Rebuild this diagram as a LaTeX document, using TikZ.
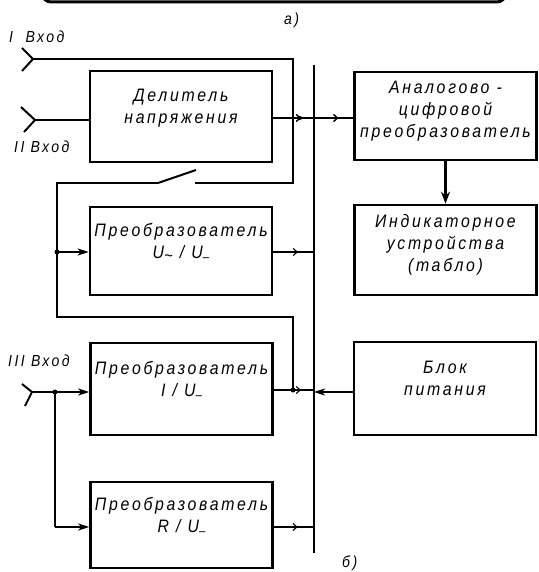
\documentclass[tikz,border=0pt]{standalone}
\usepackage{fontspec}
\setmainfont{Liberation Sans}
\newfontfamily\gost{Liberation Sans}[LetterSpace=15,FakeStretch=0.88]
\usetikzlibrary{arrows.meta,decorations.markings}
\newcommand{\acsub}{\raisebox{-3pt}{\fontsize{17}{17}\selectfont\textasciitilde}}
\newcommand{\dcsub}{\raisebox{-3pt}{\fontsize{13}{13}\selectfont–}}
\tikzset{
  blk/.style={draw, line width=2.6pt, minimum width=182pt, align=center, inner sep=0pt,
    font=\gost\itshape\fontsize{18}{22}\selectfont},
  wire/.style={line width=2pt},
  thick wire/.style={line width=2.6pt},
  inarr/.style={wire, -{Stealth[length=11pt,width=7pt,inset=3pt]}},
  markat/.style={postaction={decorate}, decoration={markings,
    mark=at position #1 with {\arrow[line width=1.1pt]{Straight Barb[length=4pt,width=7pt]}}}},
  jdot/.style={circle, fill, inner sep=0pt, minimum size=5pt},
  lbl/.style={font=\gost\itshape\fontsize{16}{18}\selectfont, inner sep=0pt, anchor=base west},
}
\begin{document}
\begin{tikzpicture}[x=1pt,y=-1pt]
\useasboundingbox (0,0) rectangle (538,572);
% bottom edge of figure a)
\draw[line width=3pt, rounded corners=8pt] (41,-15) -- (43,2) -- (505,2) -- (507,-15);
\node[lbl] (la) at (284,25) {а)};
\node[lbl] (lb) at (342,567) {б)};

% blocks
\node[blk, minimum height=91pt, text depth=20pt] (div) at (181,116.5) {Делитель\\напряжения};
\node[blk, minimum height=88pt, text depth=14pt] (adc) at (445.5,116) {Аналогово -\\цифровой\\преобразователь};
\node[blk, minimum height=90pt, text depth=14pt] (ind) at (445.5,250) {Индикаторное\\устройства\\(табло)};
\node[blk, minimum height=88pt, text depth=20pt] (uac) at (181,251) {Преобразователь\\U\acsub\ / U\dcsub};
\node[blk, minimum height=92pt, text depth=20pt] (iu) at (181.5,389) {Преобразователь\\I / U\dcsub};
\node[blk, minimum height=86pt, text depth=20pt] (ru) at (181.5,525) {Преобразователь\\R / U\dcsub};
\node[blk, minimum height=93pt, text depth=20pt] (pwr) at (445,388.5) {Блок\\питания};

% input labels
\node[lbl] (l1) at (9,43) {I\ \ Вход};
\node[lbl] (l2) at (14,153) {II Вход};
\node[lbl] (l3) at (8,366) {III\ Вход};

% bus
\coordinate (bt) at (314,65);
\coordinate (bb) at (314,553);
\draw[thick wire] (bt) -- (bb);

% input I with switch
\coordinate (i1) at (33,59);
\coordinate (i1a) at (22,48);
\coordinate (i1b) at (22,71);
\draw[wire] (i1a) -- (i1) -- (i1b);
\coordinate (c1) at (293,59);
\coordinate (c2) at (293,183);
\coordinate (sw2) at (195,183);
\coordinate (sw1) at (158,183);
\coordinate (swb) at (196,170);
\coordinate (c3) at (57,183);
\coordinate (c4) at (57,317);
\coordinate (c5) at (293,317);
\coordinate (j1) at (57,252);
\coordinate (j2) at (293,390);
\draw[wire] (i1) -- (c1) -- (c2) -- (sw2);
\draw[wire] (sw1) -- (swb);
\draw[wire] (sw1) -- (c3) -- (c4) -- (c5) -- (j2);
\node[jdot] at (j1) {};
\node[jdot] at (j2) {};
\draw[inarr] (j1) -- (uac.west |- j1);

% input II
\coordinate (i2) at (35,120);
\coordinate (i2a) at (21,107);
\coordinate (i2b) at (24,132);
\draw[wire] (i2a) -- (i2) -- (i2b);
\draw[wire] (i2) -- (i2 -| div.west);

% divider output to ADC
\coordinate (d1) at (272,118);
\coordinate (d2) at (355,118);
\draw[wire, markat=0.35, markat=0.8] (d1) -- (d2);
\node[jdot, minimum size=4pt] at (300,118) {};

% ADC -> indicator
\draw[thick wire, -{Stealth[length=12pt,width=9pt]}] (adc.south) -- (ind.north);

% converter outputs to bus
\coordinate (u1) at (272,252);
\draw[wire, markat=0.62] (u1) -- (u1 -| bt);
\coordinate (v1) at (273.5,390);
\draw[wire, markat=0.68] (v1) -- (v1 -| bt);
\coordinate (r1) at (273.5,527);
\draw[wire, markat=0.6] (r1) -- (r1 -| bt);

% power to bus
\coordinate (p1) at (354,392);
\draw[inarr] (p1) -- (p1 -| bt);

% input III
\coordinate (i3) at (32,392);
\coordinate (i3a) at (22,384);
\coordinate (i3b) at (25,406);
\draw[wire] (i3a) -- (i3) -- (i3b);
\coordinate (j3) at (55,392);
\coordinate (j4) at (55,527);
\node[jdot] at (j3) {};
\draw[inarr] (i3) -- (i3 -| iu.west);
\draw[wire] (j3) -- (j4);
\draw[inarr] (j4) -- (j4 -| ru.west);
\end{tikzpicture}
\end{document}
